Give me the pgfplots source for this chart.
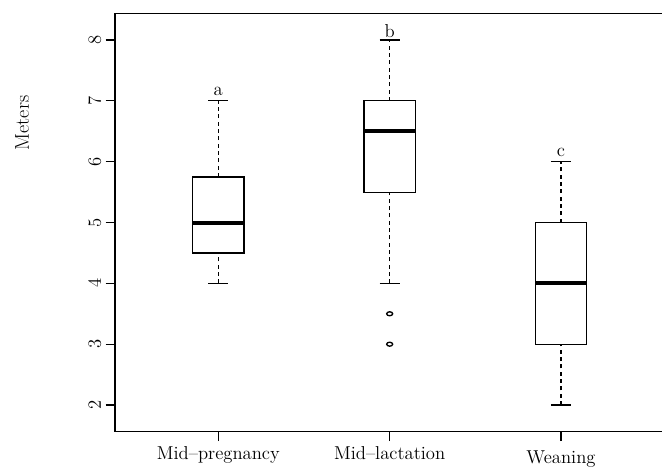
\documentclass[border=0pt]{standalone}
\usepackage{fontspec}
\usepackage{pgfplots}
\pgfplotsset{compat=1.18}
\usepgfplotslibrary{statistics}
\begin{document}
\begin{tikzpicture}
\begin{axis}[
  at={(86.25pt,27.2pt)}, anchor=south west,
  scale only axis,
  width=412pt, height=313.8pt,
  xmin=0.397, xmax=3.603,
  ymin=1.561, ymax=8.439,
  xtick={1,2,3},
  xticklabels={Mid--pregnancy, Mid--lactation, \raisebox{-3pt}{Weaning}},
  ytick={2,3,4,5,6,7,8},
  tick align=outside,
  tick pos=left,
  major tick length=7pt,
  every tick/.style={black, line width=0.9pt},
  axis line style={line width=1pt},
  tick label style={font=\fontsize{14}{16}\selectfont},
  /pgf/number format/assume math mode=true,
  yticklabel style={rotate=90, anchor=base, inner sep=0pt},
  yticklabel shift=3.5pt,
  xticklabel style={anchor=base, inner sep=0pt},
  xticklabel shift=14pt,
  ylabel={Meters},
  ylabel style={font=\fontsize{15}{17}\selectfont, at={(axis description cs:-0.169,0.738)}, anchor=center},
  boxplot/draw direction=y,
  boxplot/box extend=0.30,
  boxplot/whisker extend=0.118,
  boxplot/every median/.style={line width=3pt},
  boxplot/draw/lower whisker/.code={%
    \draw[dash pattern=on 3pt off 2.5pt] (boxplot cs:\pgfplotsboxplotvalue{lower whisker}) -- (boxplot cs:\pgfplotsboxplotvalue{lower quartile});
    \draw (boxplot whisker cs:\pgfplotsboxplotvalue{lower whisker},0) -- (boxplot whisker cs:\pgfplotsboxplotvalue{lower whisker},1);
  },
  boxplot/draw/upper whisker/.code={%
    \draw[dash pattern=on 3pt off 2.5pt] (boxplot cs:\pgfplotsboxplotvalue{upper quartile}) -- (boxplot cs:\pgfplotsboxplotvalue{upper whisker});
    \draw (boxplot whisker cs:\pgfplotsboxplotvalue{upper whisker},0) -- (boxplot whisker cs:\pgfplotsboxplotvalue{upper whisker},1);
  },
]
\addplot[black, line width=0.9pt, boxplot prepared={draw position=1, lower whisker=4, lower quartile=4.5, median=5, upper quartile=5.75, upper whisker=7}] coordinates {};
\addplot[black, line width=0.9pt, mark=o, mark size=1.5pt, mark options={solid, xscale=1.5, line width=1pt}, boxplot prepared={draw position=2, lower whisker=4, lower quartile=5.5, median=6.5, upper quartile=7, upper whisker=8}] table[row sep=\\, y index=0] {y\\ 3.5\\ 3\\};
\addplot[black, line width=0.9pt, boxplot prepared={draw position=3, lower whisker=2, lower quartile=3, median=4, upper quartile=5, upper whisker=6}] coordinates {};
\addplot[draw=none, mark=none, nodes near coords, point meta=explicit symbolic,
  every node near coord/.style={anchor=base, inner sep=0pt, font=\fontsize{14}{16}\selectfont, black}]
  coordinates {(1,7.08) [a] (2,8.044) [b] (3,6.08) [c]};
\end{axis}
\pgfresetboundingbox
\useasboundingbox (0,0) rectangle (496.5pt,351pt);
\end{tikzpicture}
\end{document}
